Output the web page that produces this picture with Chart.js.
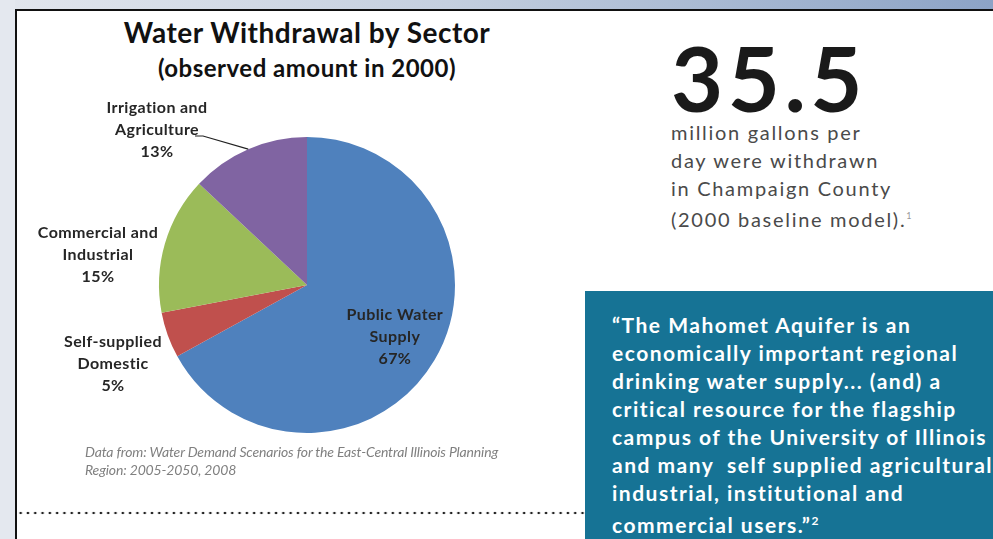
<!DOCTYPE html>
<html>
<head>
<meta charset="utf-8">
<script src="https://cdn.jsdelivr.net/npm/chart.js@4.4.1/dist/chart.umd.min.js"></script>
<style>
  html, body { margin: 0; padding: 0; }
  body { width: 993px; height: 539px; position: relative; overflow: hidden; background: #fff; font-family: Lato, 'Open Sans', sans-serif; }
  .topband { position: absolute; left: 0; top: 0; width: 993px; height: 9px; background: linear-gradient(to right, #e2e6ed, #c4cfdf 45%, #8ca3c6); }
  .leftband { position: absolute; left: 0; top: 0; width: 15px; height: 539px; background: #e4e8ef; }
  .frame { position: absolute; left: 15px; top: 9px; width: 990px; height: 540px; border-left: 2px solid #111; border-top: 2px solid #111; background: #fff; }
  #wrap { position: absolute; left: 17px; top: 11px; width: 570px; height: 470px; }
  .title { position: absolute; left: 17px; width: 580px; text-align: center; font-weight: bold; color: #111; }
  .source { position: absolute; left: 85px; top: 443px; font-style: italic; font-size: 14px; letter-spacing: -0.15px; line-height: 18px; color: #808080; }
  .dots { position: absolute; left: 17px; top: 509px; width: 568px; height: 8px;
    background-image: radial-gradient(circle, #222 1.1px, transparent 1.6px); background-size: 7.3px 8px; background-repeat: repeat-x; }
  .big { position: absolute; left: 671px; top: 27px; font-size: 90px; font-weight: bold; color: #1a1a1a; letter-spacing: 4.5px; line-height: 100px; }
  .para { position: absolute; left: 671px; top: 118px; font-size: 20px; color: #4a4a4a; letter-spacing: 1.7px; line-height: 28px; }
  .para sup { font-size: 9px; color: #999; }
  .quote { position: absolute; left: 585px; top: 291px; width: 408px; height: 248px; background: #167395; }
  .quote p { margin: 0; position: absolute; left: 27px; top: 20px; width: 400px; font-size: 21px; letter-spacing: 1.5px; font-weight: bold; color: #fff; line-height: 28px; white-space: pre; }
  .quote sup { font-size: 12px; }
</style>
</head>
<body>
<div class="topband"></div>
<div class="leftband"></div>
<div class="frame"></div>
<div class="title" style="top:15px;font-size:28px;letter-spacing:0.5px;">Water Withdrawal by Sector</div>
<div class="title" style="top:53px;font-size:24px;letter-spacing:0.5px;">(observed amount in 2000)</div>
<div id="wrap"><canvas id="pie"></canvas></div>
<div class="source">Data from: Water Demand Scenarios for the East-Central Illinois Planning<br>Region: 2005-2050, 2008</div>
<div class="dots"></div>
<div class="big">35.5</div>
<div class="para">million gallons per<br>day were withdrawn<br>in Champaign County<br>(2000 baseline model).<sup>1</sup></div>
<div class="quote"><p>“The Mahomet Aquifer is an
economically important regional
drinking water supply... (and) a
critical resource for the flagship
campus of the University of Illinois
and many  self supplied agricultural
industrial, institutional and
commercial users.”<sup>2</sup></p></div>
<script>
const sectors = ['Public Water Supply', 'Self-supplied Domestic', 'Commercial and Industrial', 'Irrigation and Agriculture'];
const labelLines = [['Public Water', 'Supply'], ['Self-supplied', 'Domestic'], ['Commercial and', 'Industrial'], ['Irrigation and', 'Agriculture']];
const shares = [67, 5, 15, 13];
const colors = ['#4f81bd', '#c0504d', '#9bbb59', '#8064a2'];

// label centres relative to pie centre; null = put it inside the slice
const labelSpots = [null, { dx: -194, dy: 79 }, { dx: -209, dy: -30 }, { dx: -150, dy: -155 }];

const sliceLabels = {
  id: 'sliceLabels',
  afterDatasetsDraw(chart) {
    const c = chart.ctx;
    const arcs = chart.getDatasetMeta(0).data;
    c.save();
    c.font = 'bold 16px Lato, sans-serif';
    c.letterSpacing = '0.4px';
    c.fillStyle = '#262626';
    c.textAlign = 'center';
    c.textBaseline = 'middle';
    arcs.forEach((arc, i) => {
      const mid = (arc.startAngle + arc.endAngle) / 2;
      let x, y;
      if (labelSpots[i] === null) {
        x = arc.x + Math.cos(mid) * arc.outerRadius * 0.69;
        y = arc.y + Math.sin(mid) * arc.outerRadius * 0.69;
      } else {
        x = arc.x + labelSpots[i].dx;
        y = arc.y + labelSpots[i].dy;
      }
      const lines = labelLines[i].concat([shares[i] + '%']);
      lines.forEach((t, k) => c.fillText(t, x, y + (k - 1) * 22));
      if (i === 3) {
        // leader line from "Agriculture" to the slice edge
        const ex = arc.x + Math.cos(mid) * arc.outerRadius;
        const ey = arc.y + Math.sin(mid) * arc.outerRadius;
        c.strokeStyle = '#222';
        c.lineWidth = 1.2;
        c.beginPath();
        c.moveTo(x + 38, y + 6);
        c.lineTo(x + 46, y + 6);
        c.lineTo(ex, ey);
        c.stroke();
      }
    });
    c.restore();
  }
};

new Chart(document.getElementById('pie'), {
  type: 'pie',
  data: {
    labels: sectors,
    datasets: [{
      data: shares,
      backgroundColor: colors,
      borderWidth: 0
    }]
  },
  options: {
    responsive: true,
    maintainAspectRatio: false,
    animation: false,
    layout: { padding: { left: 142, right: 132, top: 126, bottom: 48 } },
    plugins: {
      legend: { display: false },
      tooltip: { enabled: false }
    }
  },
  plugins: [sliceLabels]
});
</script>
</body>
</html>
